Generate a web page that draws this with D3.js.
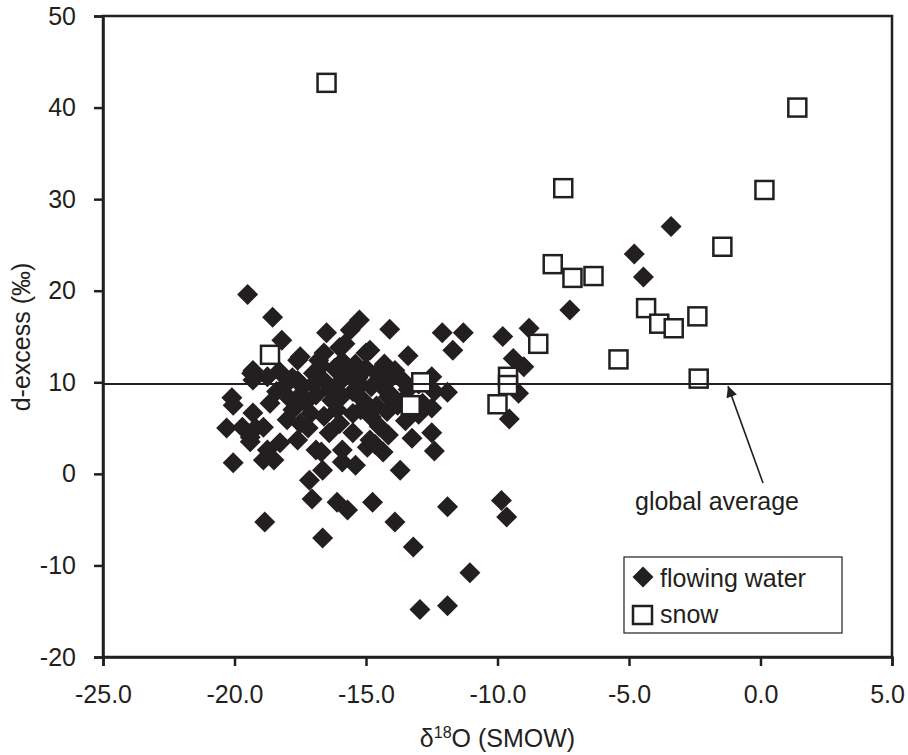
<!DOCTYPE html>
<html>
<head>
<meta charset="utf-8">
<script src="https://cdn.jsdelivr.net/npm/d3@7"></script>
<style>
    body { margin: 0; background: #fff; }
    text { font-family: "Liberation Sans", Arial, sans-serif; fill: #231f20; }
</style>
</head>
<body>
<svg id="chart" width="908" height="755"></svg>
<script>
// data (delta18O, d-excess)
let flowingWater = [
    [-19.5, 19.6], [-18.55, 17.1], [-18.2, 14.6], [-17.6, 12.4], [-17.5, 12.8], [-16.8, 12.4],
    [-16.6, 13.2], [-16.5, 15.4], [-15.6, 15.7], [-15.25, 16.8], [-15.8, 14.2], [-14.85, 13.5],
    [-14.1, 15.8], [-12.1, 15.4], [-11.3, 15.4], [-11.7, 13.5], [-13.4, 12.9], [-15.0, 13.2],
    [-16.0, 13.8], [-15.4, 12.0], [-15.9, 12.3], [-14.3, 12.0], [-15.0, 11.5], [-16.7, 11.8],
    [-13.9, 11.3], [-12.5, 10.6],
    [-14.6, 11.0], [-14.0, 10.6], [-13.6, 10.2], [-13.0, 9.8], [-12.4, 9.0], [-11.9, 8.9],
    [-12.85, 7.7], [-12.5, 7.2], [-13.0, 6.5], [-13.6, 8.0], [-14.15, 8.4], [-14.2, 9.0],
    [-14.8, 9.5], [-15.3, 10.5], [-15.6, 10.8], [-15.8, 11.0], [-16.2, 11.5], [-16.0, 10.0],
    [-15.2, 9.7], [-14.4, 10.0], [-14.0, 8.5], [-13.4, 9.2], [-16.6, 10.2], [-17.0, 11.0],
    [-17.0, 9.8], [-17.4, 9.5], [-17.6, 10.2], [-17.8, 10.5], [-18.1, 9.6], [-18.3, 11.2],
    [-18.75, 10.6], [-19.3, 11.3], [-19.3, 10.25], [-19.35, 11.0], [-18.4, 9.0], [-17.9, 8.2],
    [-17.5, 8.6], [-17.3, 7.8], [-16.9, 8.6], [-16.4, 9.2], [-16.3, 8.0], [-15.9, 8.5],
    [-15.5, 9.0], [-15.1, 8.0], [-15.2, 7.0], [-14.6, 7.4], [-14.2, 6.8], [-13.8, 7.5],
    [-14.8, 6.2], [-13.5, 5.8], [-15.5, 6.6], [-16.1, 7.0], [-16.6, 6.3], [-17.1, 6.6],
    [-17.78, 7.0], [-18.0, 5.9], [-18.65, 7.7], [-19.3, 6.65], [-20.1, 8.3], [-20.05, 7.5],
    [-16.0, 5.5], [-17.5, 5.5],
    [-20.3, 5.0], [-19.7, 5.1], [-19.2, 5.0], [-19.4, 4.0], [-18.9, 5.1], [-18.75, 2.6],
    [-18.27, 3.4], [-17.6, 3.7], [-17.2, 5.0], [-16.9, 2.6], [-16.7, 2.4], [-16.4, 4.5],
    [-15.9, 2.6], [-15.9, 1.3], [-15.4, 0.95], [-14.95, 2.9], [-14.65, 3.2], [-14.85, 3.7],
    [-14.35, 2.4], [-14.15, 4.25], [-13.25, 3.9], [-12.5, 4.5], [-12.4, 2.5], [-13.7, 0.4],
    [-15.5, 4.5], [-14.5, 5.2], [-20.05, 1.2], [-18.9, 1.5], [-18.5, 1.5], [-19.4, 3.5],
    [-16.65, 0.4],
    [-17.15, -0.7], [-17.05, -2.75], [-16.1, -3.1], [-15.7, -3.95], [-14.75, -3.1], [-13.9, -5.25],
    [-13.2, -8.0], [-11.9, -3.6], [-11.05, -10.8], [-9.85, -2.9], [-9.65, -4.7], [-18.85, -5.25],
    [-16.65, -7.0], [-12.95, -14.8], [-11.9, -14.4],
    [-9.55, 6.0], [-9.2, 8.8], [-9.4, 12.6], [-9.0, 11.7], [-9.8, 15.0], [-8.8, 15.9],
    [-7.25, 17.9], [-4.45, 21.5], [-4.8, 24.0], [-3.4, 27.0]
];

let snow = [
    [-16.5, 42.7], [1.4, 40.0], [-7.5, 31.2], [0.15, 31.0], [-1.45, 24.8], [-7.9, 22.9],
    [-7.15, 21.4], [-6.35, 21.6], [-4.35, 18.1], [-3.85, 16.4], [-3.3, 15.9], [-2.4, 17.2],
    [-5.4, 12.5], [-2.35, 10.4], [-8.45, 14.2], [-9.6, 10.6], [-9.6, 9.7], [-10.0, 7.6],
    [-12.9, 10.0], [-13.3, 7.5], [-18.65, 13.0]
];

let globalAverage = 9.8;
let xTicks = [-25, -20, -15, -10, -5, 0, 5];
let yTicks = [-20, -10, 0, 10, 20, 30, 40, 50];

let ink = "#231f20";
let svg = d3.select("#chart");

let x = d3.scaleLinear().domain([-25, 5]).range([103, 892]);
let y = d3.scaleLinear().domain([-20, 50]).range([657, 16]);

// frame
svg.append("rect")
    .attr("x", x(-25)).attr("y", y(50))
    .attr("width", x(5) - x(-25)).attr("height", y(-20) - y(50))
    .attr("fill", "none").attr("stroke", ink).attr("stroke-width", 2.5);

let yAxis = svg.append("g")
    .attr("transform", `translate(${x(-25)},0)`)
    .call(d3.axisLeft(y).tickValues(yTicks).tickSize(9).tickPadding(18).tickFormat(d => String(d)));

let xAxis = svg.append("g")
    .attr("transform", `translate(0,${y(-20)})`)
    .call(d3.axisBottom(x).tickValues(xTicks).tickSize(9).tickPadding(19).tickFormat(d => d.toFixed(1)));

[yAxis, xAxis].forEach(g => {
    g.select(".domain").attr("stroke", ink).attr("stroke-width", 2.5);
    g.selectAll(".tick line").attr("stroke", ink).attr("stroke-width", 2.5);
    g.selectAll(".tick text").attr("font-size", "25px").attr("fill", ink)
        .attr("font-family", "'Liberation Sans', Arial, sans-serif");
});

// last x label sits slightly inside the edge, as in the original
xAxis.selectAll(".tick text").filter(d => d === 5).attr("dx", -5);

// flowing water (filled diamonds)
let diamond = "M0,-10.5L10.5,0L0,10.5L-10.5,0Z";
svg.append("g").selectAll("path")
    .data(flowingWater)
    .join("path")
    .attr("transform", d => `translate(${x(d[0])},${y(d[1])})`)
    .attr("d", diamond)
    .attr("fill", ink);

// snow (open squares)
svg.append("g").selectAll("rect")
    .data(snow)
    .join("rect")
    .attr("x", d => x(d[0]) - 9)
    .attr("y", d => y(d[1]) - 9)
    .attr("width", 18).attr("height", 18)
    .attr("fill", "#fff")
    .attr("stroke", ink)
    .attr("stroke-width", 2.5);

// global average line
svg.append("line")
    .attr("x1", x(-25)).attr("x2", x(5))
    .attr("y1", y(globalAverage)).attr("y2", y(globalAverage))
    .attr("stroke", ink).attr("stroke-width", 2);

// arrow + label
svg.append("defs").append("marker")
    .attr("id", "head")
    .attr("viewBox", "0 0 10 10")
    .attr("refX", 10).attr("refY", 5)
    .attr("markerWidth", 15).attr("markerHeight", 11)
    .attr("markerUnits", "userSpaceOnUse")
    .attr("orient", "auto")
    .append("path")
    .attr("d", "M0,0L10,5L0,10Z")
    .attr("fill", ink);

svg.append("line")
    .attr("x1", 763).attr("y1", 483)
    .attr("x2", 728).attr("y2", y(globalAverage) + 2)
    .attr("stroke", ink).attr("stroke-width", 1.6)
    .attr("marker-end", "url(#head)");

svg.append("text")
    .attr("x", 635).attr("y", 510)
    .attr("font-size", "25px")
    .text("global average");

// legend
let legend = svg.append("g");
legend.append("rect")
    .attr("x", 624).attr("y", 557)
    .attr("width", 218).attr("height", 76)
    .attr("fill", "#fff").attr("stroke", ink).attr("stroke-width", 1.2);
legend.append("path")
    .attr("transform", "translate(643,577)")
    .attr("d", diamond)
    .attr("fill", ink);
legend.append("text")
    .attr("x", 660).attr("y", 587)
    .attr("font-size", "25px")
    .text("flowing water");
legend.append("rect")
    .attr("x", 633).attr("y", 606)
    .attr("width", 19).attr("height", 18)
    .attr("fill", "#fff").attr("stroke", ink).attr("stroke-width", 2.5);
legend.append("text")
    .attr("x", 660).attr("y", 623)
    .attr("font-size", "25px")
    .text("snow");

// axis titles
svg.append("text")
    .attr("transform", "translate(30,337) rotate(-90)")
    .attr("text-anchor", "middle")
    .attr("font-size", "25px")
    .text("d-excess (‰)");

let xTitle = svg.append("text")
    .attr("x", (x(-25) + x(5)) / 2)
    .attr("y", 747)
    .attr("text-anchor", "middle")
    .attr("font-size", "25px");
xTitle.append("tspan").text("δ");
xTitle.append("tspan").attr("font-size", "16px").attr("dy", -9).text("18");
xTitle.append("tspan").attr("dy", 9).text("O (SMOW)");
</script>
</body>
</html>
